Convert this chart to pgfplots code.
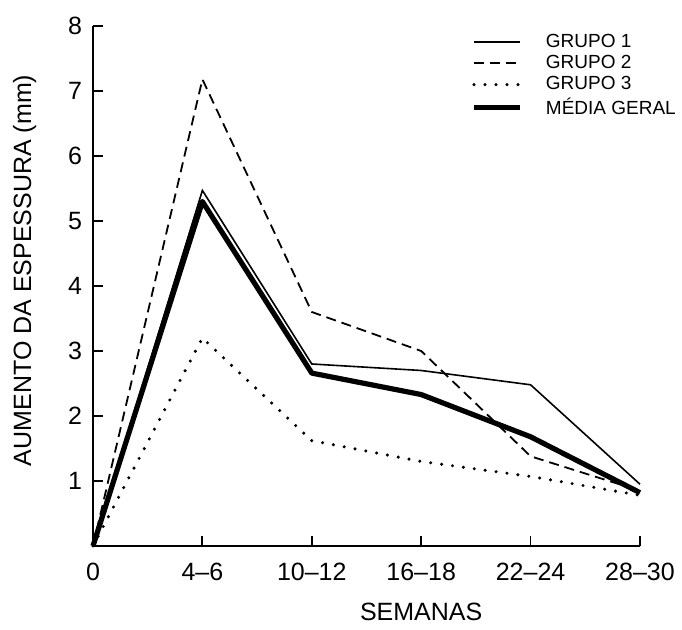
\documentclass[border=0pt]{standalone}
\usepackage{fontspec}
\setmainfont{Liberation Sans}
\usepackage{pgfplots}
\pgfplotsset{compat=1.18}

\begin{document}
\begin{tikzpicture}
\useasboundingbox (-46.5pt,-42pt) rectangle (294.5pt,273pt);
\begin{axis}[
    scale only axis,
    width=273.5pt,
    height=260pt,
    xmin=0, xmax=5,
    ymin=0, ymax=8,
    axis lines=left,
    axis line style={-, line width=1pt},
    tick style={line width=0.9pt, black},
    tick align=inside,
    major tick length=5pt,
    xtick={0,1,2,3,4,5},
    xticklabels={0,4--6,10--12,16--18,22--24,28--30},
    ytick={1,2,3,4,5,6,7,8},
    /pgf/number format/assume math mode=true,
    tick label style={font=\fontsize{12.5}{15}\selectfont},
    xticklabel style={yshift=-5pt},
    yticklabel style={xshift=-2pt},
    xlabel={SEMANAS},
    ylabel={AUMENTO DA ESPESSURA (mm)},
    label style={font=\fontsize{12.5}{15}\selectfont},
    xlabel style={at={(ticklabel cs:0.6)}, yshift=-4.5pt},
    ylabel style={at={(ticklabel cs:0.53)}, yshift=9pt},
    clip=false,
    legend style={at={(0.68,0.997)}, anchor=north west, draw=none, fill=none,
        font=\fontsize{9.5}{10.5}\selectfont, row sep=0.5pt,
        nodes={inner sep=1pt}},
    legend cell align=left,
    legend image code/.code={\draw[#1] (0pt,0pt) -- (23pt,0pt); \path[draw=none] (0pt,0pt) -- (35pt,0pt);},
]
\addplot[black, line width=0.8pt] coordinates {
    (0,0) (1,5.47) (2,2.8) (3,2.7) (4,2.48) (5,0.95)
};
\addplot[black, line width=0.9pt, dash pattern=on 5pt off 3pt] coordinates {
    (0,0) (1,7.18) (2,3.6) (3,3.0) (4,1.38) (5,0.85)
};
\addplot[black, line width=1.7pt, line cap=round, dash pattern=on 0pt off 5.5pt] coordinates {
    (0,0) (1,3.2) (2,1.62) (3,1.3) (4,1.07) (5,0.78)
};
\addplot[black, line width=2.6pt, line join=round] coordinates {
    (0,0) (1,5.3) (2,2.66) (3,2.33) (4,1.68) (5,0.82)
};
\legend{GRUPO 1,GRUPO 2,GRUPO 3,MÉDIA GERAL}
\end{axis}
\end{tikzpicture}
\end{document}
